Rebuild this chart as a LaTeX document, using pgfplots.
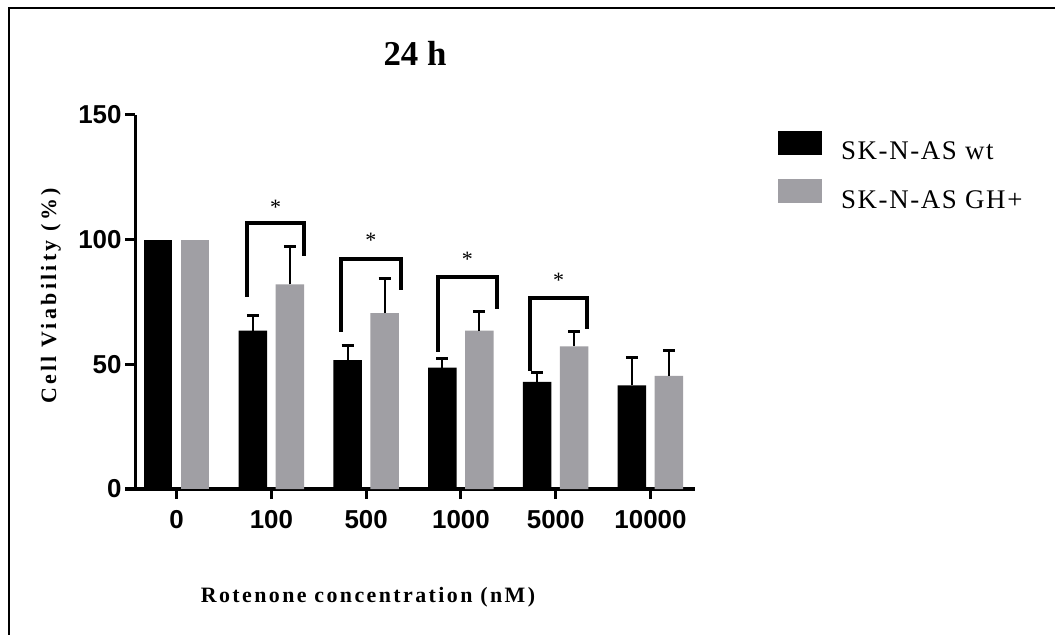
\documentclass[border=0pt]{standalone}
\usepackage{pgfplots}
\pgfplotsset{compat=1.18}
\usepackage{pgfplotstable}
\usepackage{fontspec}
\setmainfont{Liberation Serif}
\newfontfamily\arial{Liberation Sans}
\definecolor{ghgray}{RGB}{160,159,164}

\pgfplotstableread{
x wt wterr gh gherr
1 63.5 5.9 82.1 15.1
2 51.7 5.7 70.5 14.0
3 48.7 3.7 63.5 7.6
4 43.0 3.7 57.2 5.9
5 41.6 11.3 45.4 10.1
}\data

\begin{document}
\begin{tikzpicture}
\useasboundingbox (0,0) rectangle (1055bp,635bp);
\fill[white] (0,0) rectangle (1055bp,635bp);
\draw[line width=2.5bp, line join=miter] (9bp,0bp) -- (9bp,627bp) -- (1055bp,627bp);
\begin{axis}[
  at={(135bp,146bp)}, anchor=south west,
  scale only axis, width=560bp, height=374bp,
  xmin=-0.44, xmax=5.47, ymin=0, ymax=150,
  axis lines=left, axis line style={line width=3bp, -},
  ytick={0,50,100,150},
  xtick={0,1,2,3,4,5},
  xticklabels={0,100,500,1000,5000,10000},
  tick style={line width=3bp, black},
  major tick length=10bp, tick align=outside,
  tick label style={font=\arial\bfseries\fontsize{26}{26}\selectfont},
  xticklabel style={yshift=-8bp},
  /pgf/number format/assume math mode=true,
  ybar, bar width=28.5bp,
  clip=false,
  title={24 h},
  title style={at={(0.5,1.15)}, anchor=center, font=\bfseries\fontsize{35}{35}\selectfont},
  xlabel={Rotenone concentration (nM)},
  xlabel style={at={(0.416,-0.289)}, anchor=center, font=\bfseries\fontsize{22}{22}\selectfont\addfontfeature{LetterSpace=11}},
  ylabel={Cell Viability (\%)},
  ylabel style={at={(-0.15,0.516)}, anchor=center, font=\bfseries\fontsize{22}{22}\selectfont\addfontfeature{LetterSpace=15}},
  legend style={at={(1.148,0.957)}, anchor=north west, draw=none, fill=none,
    inner sep=0pt, row sep=18bp, font=\fontsize{27}{27}\selectfont\addfontfeature{LetterSpace=6},
    nodes={inner sep=0pt},
    /tikz/every odd column/.append style={column sep=19bp}},
  legend cell align=left,
]
\addplot[fill=black, draw=none, bar shift=-18.5bp,
  legend image code/.code={\fill[black] (0bp,-3.5bp) rectangle (44bp,20.5bp);},
  error bars/.cd, y dir=plus, y explicit,
  error bar style={line width=2bp, black},
  error mark options={rotate=90, line width=3bp, mark size=6bp, black}]
  table[x=x, y=wt, y error=wterr] {\data};
\addlegendentry{SK-N-AS wt}
\addplot[fill=ghgray, draw=none, bar shift=18.5bp,
  legend image code/.code={\fill[ghgray] (0bp,-3.5bp) rectangle (44bp,20.5bp);},
  error bars/.cd, y dir=plus, y explicit,
  error bar style={line width=2bp, black},
  error mark options={rotate=90, line width=3bp, mark size=6bp, black}]
  table[x=x, y=gh, y error=gherr] {\data};
\addlegendentry{SK-N-AS GH+}
\addplot[fill=black, draw=none, bar shift=-18.5bp, forget plot] coordinates {(0,100)};
\addplot[fill=ghgray, draw=none, bar shift=18.5bp, forget plot] coordinates {(0,100)};
% significance brackets
\addplot[sharp plot, line width=4bp, black, line join=miter, forget plot] coordinates {(0.744,77.1) (0.744,106.8) (1.346,106.8) (1.346,93.5)};
\addplot[sharp plot, line width=4bp, black, line join=miter, forget plot] coordinates {(1.733,63.1) (1.733,92.3) (2.363,92.3) (2.363,79.8)};
\addplot[sharp plot, line width=4bp, black, line join=miter, forget plot] coordinates {(2.760,55.1) (2.760,85.2) (3.376,85.2) (3.376,72.2)};
\addplot[sharp plot, line width=4bp, black, line join=miter, forget plot] coordinates {(3.727,47.5) (3.727,76.5) (4.335,76.5) (4.335,64.1)};
\node[anchor=north, inner sep=0pt, font=\fontsize{22}{22}\selectfont] at (axis cs:1.045,115.9) {*};
\node[anchor=north, inner sep=0pt, font=\fontsize{22}{22}\selectfont] at (axis cs:2.048,102.8) {*};
\node[anchor=north, inner sep=0pt, font=\fontsize{22}{22}\selectfont] at (axis cs:3.068,95.2) {*};
\node[anchor=north, inner sep=0pt, font=\fontsize{22}{22}\selectfont] at (axis cs:4.031,86.5) {*};
\end{axis}
\end{tikzpicture}
\end{document}
